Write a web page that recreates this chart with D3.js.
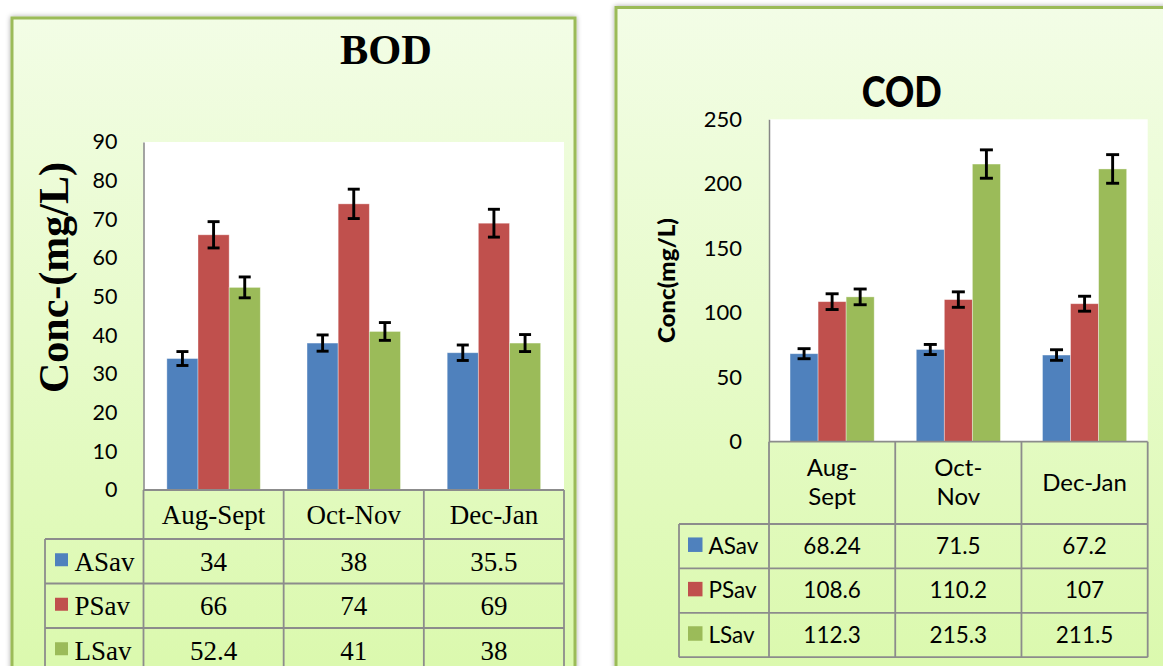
<!DOCTYPE html>
<html><head><meta charset="utf-8">
<script src="https://cdn.jsdelivr.net/npm/d3@7"></script>
<style>body{margin:0;background:#fff}svg{display:block}</style>
</head><body><svg id="c" width="1163" height="666"></svg>
<script>
// ---------- data ----------
const categories = ["Aug-Sept", "Oct-Nov", "Dec-Jan"];
const seriesNames = ["ASav", "PSav", "LSav"];
const seriesColors = ["#4f81bd", "#c0504d", "#9bbb59"];

const bodASav = [34, 38, 35.5];
const bodPSav = [66, 74, 69];
const bodLSav = [52.4, 41, 38];
const bodErrASav = [1.8, 2.1, 2.0];
const bodErrPSav = [3.4, 3.8, 3.6];
const bodErrLSav = [2.7, 2.3, 2.2];
const bodTicks = [0, 10, 20, 30, 40, 50, 60, 70, 80, 90];

const codASav = [68.24, 71.5, 67.2];
const codPSav = [108.6, 110.2, 107];
const codLSav = [112.3, 215.3, 211.5];
const codErrASav = [3.9, 3.9, 4.1];
const codErrPSav = [6.1, 6.0, 5.8];
const codErrLSav = [6.1, 11.0, 11.1];
const codTicks = [0, 50, 100, 150, 200, 250];

// ---------- setup ----------
const svg = d3.select("#c");
const defs = svg.append("defs");
const grad = defs.append("linearGradient").attr("id", "bg")
  .attr("gradientUnits", "userSpaceOnUse").attr("x1", 0).attr("y1", 0).attr("x2", 0).attr("y2", 666);
grad.append("stop").attr("offset", 0).attr("stop-color", "#f3fde7");
grad.append("stop").attr("offset", 1).attr("stop-color", "#dbf9ae");
const sh = defs.append("filter").attr("id", "sh").attr("x", -0.1).attr("y", -0.1).attr("width", 1.2).attr("height", 1.2);
sh.append("feDropShadow").attr("dx", 0).attr("dy", 0).attr("stdDeviation", 2.5)
  .attr("flood-color", "#000").attr("flood-opacity", 0.35);

const LINE = "#8c8c8c";

function drawPanel(c) {
  const g = svg.append("g");
  g.append("rect").attr("x", c.px).attr("y", c.py).attr("width", c.pw).attr("height", c.ph)
    .attr("fill", "url(#bg)").attr("stroke", "#9bbb59").attr("stroke-width", 3).attr("filter", "url(#sh)");

  const x0 = d3.scaleBand().domain(categories).range([c.l, c.r]);
  const x1 = d3.scaleBand().domain(seriesNames).range([0, x0.bandwidth()]).paddingOuter(0.75);
  const y = d3.scaleLinear().domain([0, d3.max(c.ticks)]).range([c.b, c.t]);

  // plot area
  g.append("rect").attr("x", c.l).attr("y", c.t).attr("width", c.r - c.l).attr("height", c.b - c.t).attr("fill", "#fff");

  // title
  g.append("text").attr("x", c.titleX).attr("y", c.titleY).attr("text-anchor", "middle")
    .attr("font-family", c.titleFont).attr("font-weight", c.titleWeight).attr("font-size", c.titleSize)
    .attr("textLength", c.titleLen).attr("lengthAdjust", "spacingAndGlyphs").text(c.title);

  // y title
  g.append("text").attr("transform", `translate(${c.ytX},${c.ytY}) rotate(-90)`).attr("text-anchor", "middle")
    .attr("font-family", c.ytFont).attr("font-weight", c.ytWeight).attr("font-size", c.ytSize)
    .attr("textLength", c.ytLen).attr("lengthAdjust", "spacingAndGlyphs").text(c.yTitle);

  // bars
  c.values.forEach((vals, si) => {
    const sg = g.append("g");
    sg.selectAll("rect").data(vals).join("rect")
      .attr("x", (d, j) => x0(categories[j]) + x1(seriesNames[si]))
      .attr("y", d => y(d))
      .attr("width", x1.bandwidth())
      .attr("height", d => c.b - y(d))
      .attr("fill", seriesColors[si])
      .attr("stroke", "rgba(255,255,255,0.45)").attr("stroke-width", 0.8);
  });
  // error bars
  c.values.forEach((vals, si) => {
    const errs = c.errs[si];
    vals.forEach((v, j) => {
      const cx = x0(categories[j]) + x1(seriesNames[si]) + x1.bandwidth() / 2;
      const y1 = y(v + errs[j]), y2 = y(v - errs[j]);
      const eg = g.append("g").attr("stroke", "#000").attr("stroke-width", 2.9);
      eg.append("line").attr("x1", cx).attr("x2", cx).attr("y1", y1).attr("y2", y2);
      eg.append("line").attr("x1", cx - c.cap / 2).attr("x2", cx + c.cap / 2).attr("y1", y1).attr("y2", y1);
      eg.append("line").attr("x1", cx - c.cap / 2).attr("x2", cx + c.cap / 2).attr("y1", y2).attr("y2", y2);
    });
  });

  // y axis
  const ax = g.append("g").attr("transform", `translate(${c.l},0)`)
    .call(d3.axisLeft(y).tickValues(c.ticks).tickSize(0).tickSizeOuter(0).tickPadding(c.tickPad));
  ax.select(".domain").attr("stroke", "#868686").attr("stroke-width", 1.5);
  ax.selectAll("text").attr("font-family", "Lato").attr("font-size", c.tickSize).attr("fill", "#000");

  // data table
  const rowsTop = c.hb;
  const tb = rowsTop + 3 * c.rowH;
  const tl = g.append("g").attr("stroke", LINE).attr("stroke-width", 1.8).attr("fill", "none");
  tl.append("line").attr("x1", c.l).attr("x2", c.r).attr("y1", c.b).attr("y2", c.b);
  const colEdges = categories.map(k => x0(k)).concat([c.r]);
  colEdges.forEach(xx => tl.append("line").attr("x1", xx).attr("x2", xx).attr("y1", c.b).attr("y2", tb));
  tl.append("line").attr("x1", c.legL).attr("x2", c.legL).attr("y1", rowsTop).attr("y2", tb);
  for (let k = 0; k <= 3; k++) {
    const yy = rowsTop + k * c.rowH;
    tl.append("line").attr("x1", c.legL).attr("x2", c.r).attr("y1", yy).attr("y2", yy);
  }

  // header labels
  const hc = (c.b + c.hb) / 2;
  categories.forEach(cat => {
    const cx = x0(cat) + x0.bandwidth() / 2;
    const t = g.append("text").attr("x", cx).attr("text-anchor", "middle")
      .attr("font-family", c.tFont).attr("font-size", c.hSize).attr("fill", "#000");
    t.text(cat).attr("y", hc + c.hOff);
    if (c.wrap && t.node().getComputedTextLength() > c.wrap) {
      const idx = cat.indexOf("-");
      const parts = [cat.slice(0, idx + 1), cat.slice(idx + 1)];
      t.text(null);
      parts.forEach((p, i) => t.append("tspan").attr("x", cx).attr("y", hc + c.hOff + (i - 0.5) * c.lineH).text(p));
    }
  });

  // rows
  seriesNames.forEach((s, si) => {
    const rc = rowsTop + (si + 0.5) * c.rowH;
    g.append("rect").attr("x", c.sqX).attr("y", rc - c.sq / 2 - c.sqUp).attr("width", c.sq).attr("height", c.sq)
      .attr("fill", seriesColors[si]);
    g.append("text").attr("x", c.nameX).attr("y", rc + c.vOff).attr("font-family", c.tFont)
      .attr("font-size", c.vSize).attr("fill", "#000").text(s);
    c.values[si].forEach((v, j) => {
      g.append("text").attr("x", x0(categories[j]) + x0.bandwidth() / 2).attr("y", rc + c.vOff)
        .attr("text-anchor", "middle").attr("font-family", c.tFont).attr("font-size", c.vSize)
        .attr("fill", "#000").text(String(v));
    });
  });
}

drawPanel({
  px: 12, py: 18, pw: 563, ph: 720,
  l: 143.5, r: 564, t: 142, b: 490,
  ticks: bodTicks, values: [bodASav, bodPSav, bodLSav], errs: [bodErrASav, bodErrPSav, bodErrLSav],
  cap: 12, tickPad: 26, tickSize: 21.5,
  title: "BOD", titleX: 386, titleY: 63.5, titleFont: "Liberation Serif", titleWeight: "bold", titleSize: 43, titleLen: 92,
  yTitle: "Conc-(mg/L)", ytX: 68, ytY: 277.5, ytFont: "Liberation Serif", ytWeight: "bold", ytSize: 42, ytLen: 231,
  hb: 539, rowH: 44.5, legL: 45,
  tFont: "Liberation Serif", hSize: 27, hOff: 9.5, vSize: 27, vOff: 9.5, wrap: 0, lineH: 0,
  sqX: 55, sq: 13, sqUp: 1.5, nameX: 74.5
});

drawPanel({
  px: 616, py: 7.5, pw: 620, ph: 720,
  l: 769, r: 1147.7, t: 119.3, b: 441.7,
  ticks: codTicks, values: [codASav, codPSav, codLSav], errs: [codErrASav, codErrPSav, codErrLSav],
  cap: 13, tickPad: 27, tickSize: 22,
  title: "COD", titleX: 901.7, titleY: 106.7, titleFont: "Lato", titleWeight: 900, titleSize: 42, titleLen: 80,
  yTitle: "Conc(mg/L)", ytX: 675, ytY: 280.5, ytFont: "Lato", ytWeight: 900, ytSize: 22, ytLen: 125,
  hb: 524, rowH: 44.4, legL: 679,
  tFont: "Lato", hSize: 24, hOff: 7.7, vSize: 22.5, vOff: 7.5, wrap: 88, lineH: 29,
  sqX: 688, sq: 14.5, sqUp: 1.5, nameX: 708.5
});
</script></body></html>
